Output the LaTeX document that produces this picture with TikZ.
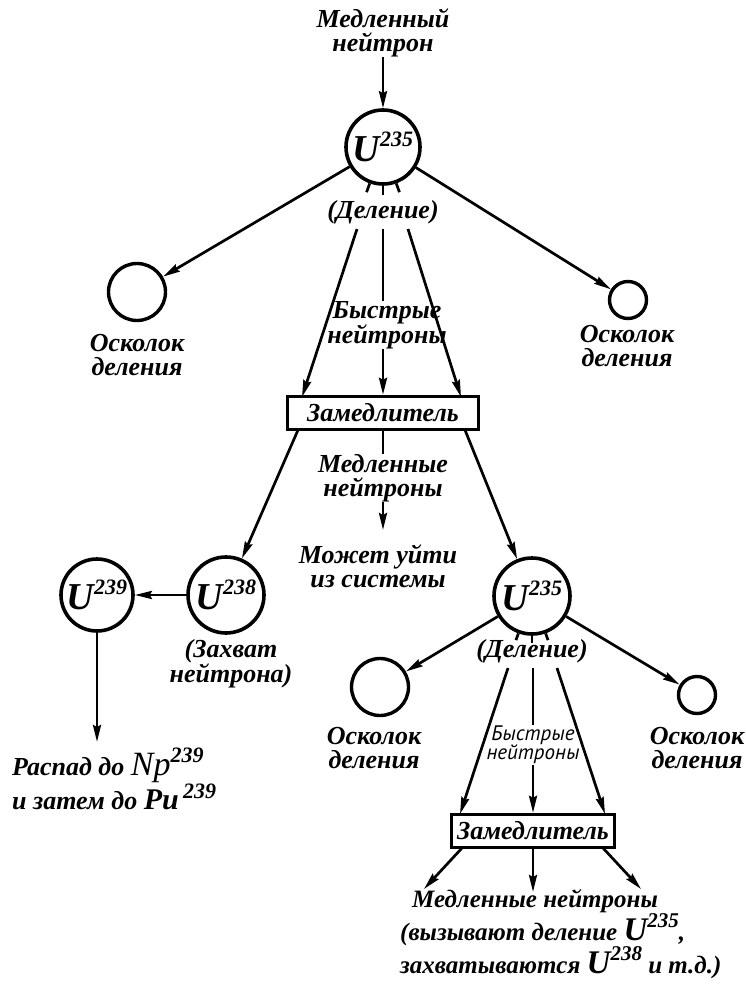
\documentclass[tikz,border=0pt]{standalone}
\usepackage{fontspec}
\setmainfont{Liberation Serif}
\newfontfamily\fastfont{PT Sans}
\usetikzlibrary{arrows.meta,calc}
\newcommand\isot[5]{{\fontsize{#1}{#1}\selectfont #2}\raisebox{#4}{\fontsize{#5}{#5}\selectfont #3}}
\begin{document}
\begin{tikzpicture}[x=1pt,y=-1pt,
 lbl/.style={font=\fontsize{26}{24}\selectfont\bfseries\itshape, align=center, inner sep=0pt},
 atom/.style={circle, draw, line width=3.6pt, inner sep=0pt, minimum size=74pt, font=\bfseries\itshape},
 frag/.style={circle, draw, line width=3.4pt, inner sep=0pt},
 modbox/.style={draw, line width=3.4pt, inner sep=0pt, minimum height=33pt, font=\fontsize{26}{26}\selectfont\bfseries\itshape},
 arr/.style={line width=2.7pt, -{Stealth[length=17pt,width=8pt,inset=2pt]}},
 ln/.style={line width=2.7pt},
 fast/.style={font=\fontsize{21}{19}\selectfont\fastfont\itshape, align=center, inner sep=1pt},
]
\useasboundingbox (0,0) rectangle (745,984);

% ---- top fission ----
\node[lbl] (slow0) at (383,33) {Медленный\\нейтрон};
\node[atom] (A1) at (383,147) {\isot{38}{U}{235}{15pt}{22}};
\draw[arr] (slow0) -- (A1);
\foreach \a in {250,270,290} \draw[ln] (A1.\a) -- ($(A1.center)!1.24!(A1.\a)$);
\node[lbl] (del1) at (383,212) {(Деление)};

\node[frag, minimum size=57pt] (F1) at (137,292) {};
\node[frag, minimum size=37pt] (F2) at (628,300) {};
\draw[arr] (A1) -- (F1);
\draw[arr] (A1) -- (F2);
\node[lbl] (F1t) at (137,355) {Осколок\\деления};
\node[lbl] (F2t) at (627,346) {Осколок\\деления};

\node[modbox, minimum width=191pt] (M1) at (383,413) {Замедлитель};
\node[lbl] (fast1) at (387,325) {Быстрые\\нейтроны};
\coordinate (d1l) at (357,229); \coordinate (d1c) at (383,229); \coordinate (d1r) at (408,229);
\coordinate (m1l) at (302,397); \coordinate (m1r) at (461,397);
\draw[arr] (d1l) -- (m1l);
\draw[ln] (d1c) -- (d1c |- fast1.north);
\draw[arr] (d1c |- fast1.south) -- (M1.north);
\draw[arr] (d1r) -- (m1r);

% ---- below first moderator ----
\node[lbl] (slow1) at (383,478) {Медленные\\нейтроны};
\draw[ln] (M1.south) -- (slow1.north);
\node[lbl] (esc) at (378,566) {Может уйти\\из системы};
\coordinate (esctip) at (383,530);
\draw[arr] (slow1.south) -- (esctip);

% ---- left branch: capture ----
\coordinate (m1bl) at (298,430); \coordinate (m1br) at (465,430);
\node[atom, minimum size=76pt] (B1) at (226,595) {\isot{38}{U}{238}{15pt}{22}};
\node[atom, minimum size=72pt] (B0) at (97,595) {\isot{38}{U}{239}{15pt}{22}};
\draw[arr] (m1bl) -- (B1);
\draw[arr] (B1) -- (B0);
\node[lbl] (cap) at (231,664) {(Захват\\нейтрона)};
\coordinate (b0e) at (97,742);
\draw[arr] (B0) -- (b0e);
\node[lbl, font=\fontsize{26}{28}\selectfont\bfseries\itshape, align=left, anchor=north west] (dec) at (12,748)
 {Распад до {\fontsize{34}{34}\selectfont\mdseries Np}\raisebox{13pt}{\fontsize{22}{22}\selectfont 239}\\
  и затем до {\fontsize{30}{30}\selectfont Pu}\,\raisebox{11pt}{\fontsize{22}{22}\selectfont 239}};

% ---- right branch: second fission ----
\node[atom, minimum size=76pt] (A2) at (532,596) {\isot{38}{U}{235}{15pt}{22}};
\draw[arr] (m1br) -- (A2);
\foreach \a in {250,270,290} \draw[ln] (A2.\a) -- ($(A2.center)!1.18!(A2.\a)$);
\node[lbl] (del2) at (532,651) {(Деление)};
\node[frag, minimum size=57pt] (F3) at (380,687) {};
\node[frag, minimum size=37pt] (F4) at (697,695) {};
\draw[arr] (A2) -- (F3);
\draw[arr] (A2) -- (F4);
\node[lbl] (F3t) at (374,748) {Осколок\\деления};
\node[lbl] (F4t) at (697,748) {Осколок\\деления};

\node[modbox, minimum width=163pt] (M2) at (533,831) {Замедлитель};
\node[fast] (fast2) at (533,745) {Быстрые\\нейтроны};
\coordinate (d2l) at (508,668); \coordinate (d2c) at (533,668); \coordinate (d2r) at (557,668);
\coordinate (m2l) at (460,814); \coordinate (m2r) at (605,814);
\draw[arr] (d2l) -- (m2l);
\draw[ln] (d2c) -- (fast2.north);
\draw[arr] (fast2.south) -- (M2.north);
\draw[arr] (d2r) -- (m2r);

\coordinate (m2bl) at (462,848); \coordinate (m2br) at (603,848);
\coordinate (o1) at (424,889); \coordinate (o2) at (533,892); \coordinate (o3) at (641,889);
\draw[arr] (m2bl) -- (o1);
\draw[arr] (M2.south) -- (o2);
\draw[arr] (m2br) -- (o3);
\node[lbl, font=\fontsize{25}{30}\selectfont\bfseries\itshape, align=left, anchor=north west] (res) at (400,889)
 {\hspace*{12pt}Медленные нейтроны\\(вызывают деление \isot{33}{U}{235}{13pt}{21},\\захватываются \isot{33}{U}{238}{13pt}{21} и т.д.)};
\end{tikzpicture}
\end{document}
